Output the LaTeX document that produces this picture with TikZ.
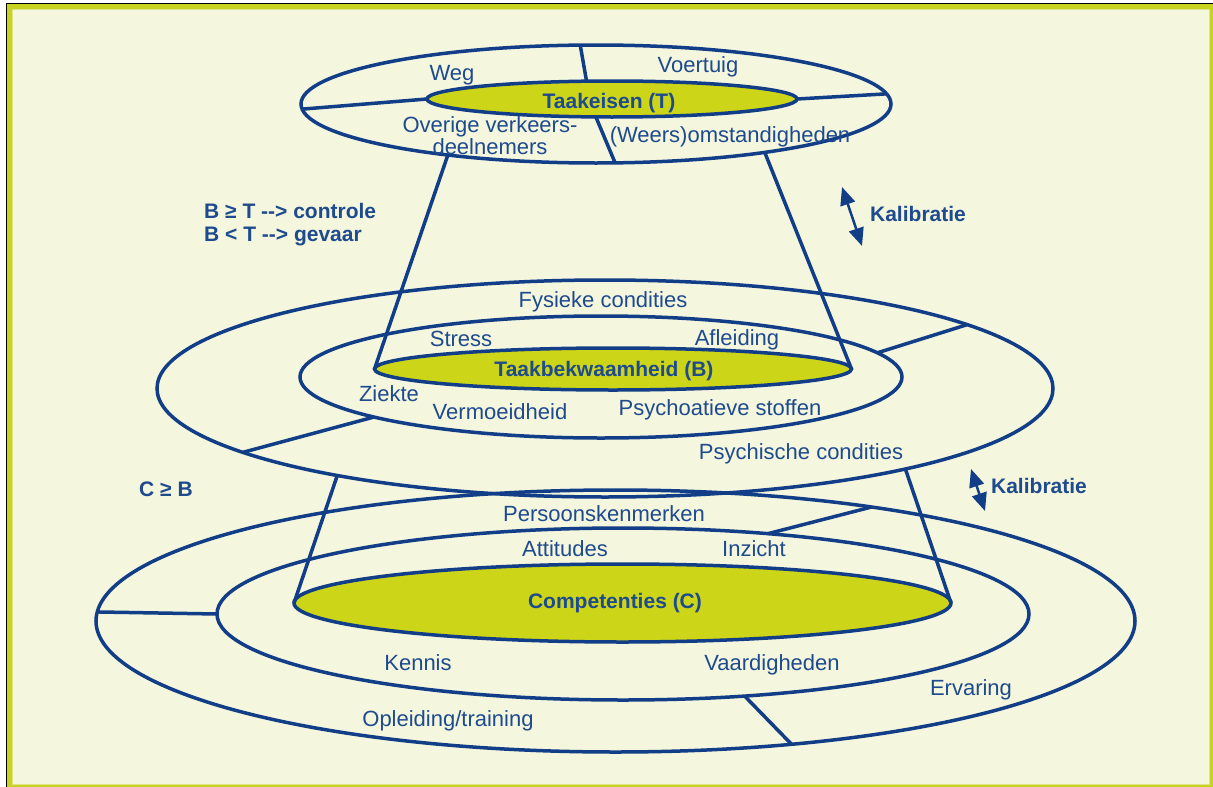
\documentclass[tikz,border=0pt]{standalone}
\usepackage{fontspec}
\setmainfont{Liberation Sans}
\usetikzlibrary{arrows.meta,shapes.geometric}

\definecolor{lineblue}{RGB}{18,62,135}
\definecolor{textblue}{RGB}{30,74,142}
\definecolor{corefill}{RGB}{205,213,24}
\definecolor{paper}{RGB}{244,246,222}
\definecolor{framegreen}{RGB}{200,210,32}
\definecolor{framelight}{RGB}{222,228,140}

\newcommand{\arr}{-\kern0pt-\kern0pt>}

\tikzset{
  ring/.style={ellipse, draw=lineblue, line width=3.5pt, inner sep=0pt, outer sep=0pt},
  core/.style={ring, fill=corefill},
  divider/.style={draw=lineblue, line width=3.5pt},
  lbl/.style={text=textblue, font=\fontsize{22}{18}\selectfont, inner sep=0pt,
    text height=16pt, text depth=0pt, align=center},
  blbl/.style={lbl, font=\fontsize{21}{23}\selectfont\bfseries},
  kalib/.style={draw=lineblue, line width=2.5pt,
    {Triangle[length=18pt,width=15pt]}-{Triangle[length=18pt,width=15pt]}}
}

\begin{document}
\begin{tikzpicture}[x=1pt,y=-1pt]
  \useasboundingbox (0,0) rectangle (1213,787);
  \fill[white] (0,0) rectangle (1213,787);
  \fill[framegreen] (6.5,3.5) rectangle (1213,787);
  \fill[framelight] (11.5,8.5) rectangle (1209.5,784.5);
  \fill[paper] (13,10) rectangle (1208.5,783.5);
  \draw[black, line width=1.2pt] (6.5,787) -- (6.5,3.5) -- (1213,3.5);

  % Competenties
  \node[ring, minimum width=1039pt, minimum height=262pt] (compOuter) at (615.5,621) {};
  \node[ring, minimum width=812pt, minimum height=172pt] (compRing) at (623,614) {};
  \node[core, minimum width=657pt, minimum height=78pt] (compCore) at (622.5,603) {};
  \draw[divider] (compOuter.179.55) -- (compRing.180.4);
  \draw[divider] (compRing.29.2) -- (compOuter.24.6);
  \draw[divider] (compRing.-34.6) -- (compOuter.-35.8);

  % Taakbekwaamheid
  \node[ring, minimum width=896pt, minimum height=217pt] (abilOuter) at (605,388.5) {};
  \node[ring, minimum width=602pt, minimum height=122pt] (abilRing) at (601,377) {};
  \node[core, minimum width=477pt, minimum height=42pt] (abilCore) at (613,369) {};
  \draw[divider] (abilRing.5.3) -- (abilOuter.10.3);
  \draw[divider] (abilRing.190.6) -- (abilOuter.190.9);

  % Taakeisen
  \node[ring, minimum width=590pt, minimum height=118pt] (taskOuter) at (596,104) {};
  \node[core, minimum width=370pt, minimum height=36pt] (taskCore) at (612,99) {};
  \draw[divider] (taskCore.145.6) -- (taskOuter.105.2);
  \draw[divider] (taskOuter.181.2) -- (taskCore.west);
  \draw[divider] (taskCore.east) -- (taskOuter.2.8);
  \draw[divider] (taskCore.228.2) -- (taskOuter.-72.1);

  % kegels
  \draw[divider] (taskOuter.199.5) -- (abilCore.west);
  \draw[divider] (taskOuter.-16) -- (abilCore.east);
  \draw[divider] (abilOuter.198.3) -- (compCore.west);
  \draw[divider] (abilOuter.-15.65) -- (compCore.east);

  \coordinate (kal1a) at (842,187);
  \coordinate (kal1b) at (862,246);
  \coordinate (kal2a) at (971,469);
  \coordinate (kal2b) at (985,511);
  \draw[kalib] (kal1a) -- (kal1b);
  \draw[kalib] (kal2a) -- (kal2b);

  \node[lbl] (weg) at (452,72) {Weg};
  \node[lbl] (voertuig) at (698,64) {Voertuig};
  \node[blbl] (taakeisen) at (609,100) {Taakeisen (T)};
  \node[lbl] (overige) at (490,146) {Overige verkeers-\\deelnemers};
  \node[lbl] (weers) at (730,134) {(Weers)omstandigheden};
  \node[blbl, align=left, anchor=west] (regel) at (204,233) {B ≥ T \arr{} controle\\B < T \arr{} gevaar};
  \node[blbl] (kalib1) at (918,213) {Kalibratie};

  \node[lbl] (fysiek) at (603,299) {Fysieke condities};
  \node[lbl] (stress) at (461,338) {Stress};
  \node[lbl] (afleiding) at (737,337) {Afleiding};
  \node[blbl] (taakbekw) at (604,368) {Taakbekwaamheid (B)};
  \node[lbl] (ziekte) at (389,393) {Ziekte};
  \node[lbl] (vermoeid) at (500,411) {Vermoeidheid};
  \node[lbl] (psychoat) at (720,407) {Psychoatieve stoffen};
  \node[lbl] (psychisch) at (801,451) {Psychische condities};

  \node[blbl] (cgeb) at (166,488) {C ≥ B};
  \node[blbl] (kalib2) at (1039,485) {Kalibratie};
  \node[lbl] (persoon) at (604,513) {Persoonskenmerken};
  \node[lbl] (attitudes) at (565,548) {Attitudes};
  \node[lbl] (inzicht) at (754,548) {Inzicht};
  \node[blbl] (competent) at (615,600) {Competenties (C)};
  \node[lbl] (kennis) at (418,662) {Kennis};
  \node[lbl] (vaardig) at (772,662) {Vaardigheden};
  \node[lbl] (ervaring) at (971,687) {Ervaring};
  \node[lbl] (opleiding) at (448,718) {Opleiding/training};
\end{tikzpicture}
\end{document}
